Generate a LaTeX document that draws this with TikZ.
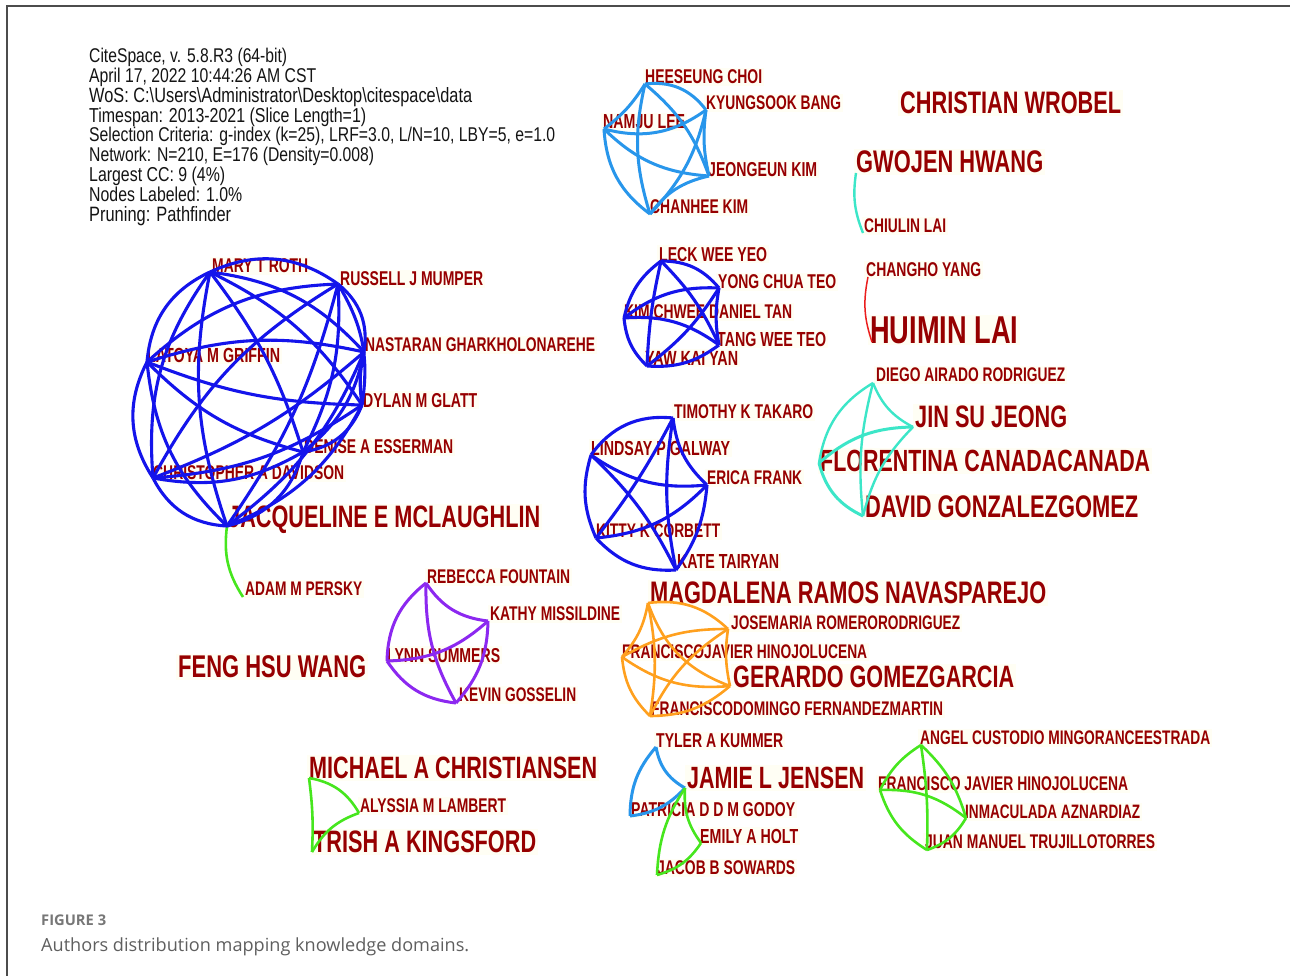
\documentclass[tikz,border=0pt]{standalone}
\usepackage{fontspec}
\usepackage{graphicx}
\newfontfamily\lblfont{Liberation Sans}[FakeStretch=0.7]
\newfontfamily\hdrfont{Liberation Sans}[FakeStretch=0.79]
\newfontfamily\capfont{Open Sans}
\definecolor{lblred}{RGB}{150,0,0}
\definecolor{lblbg}{RGB}{255,254,244}
\definecolor{cblue}{RGB}{40,150,235}
\definecolor{dblue}{RGB}{20,20,235}
\definecolor{cyanE}{RGB}{60,230,200}
\definecolor{redE}{RGB}{235,30,30}
\definecolor{greenE}{RGB}{70,230,30}
\definecolor{purpleE}{RGB}{140,40,240}
\definecolor{orangeE}{RGB}{255,160,30}
\definecolor{capgray}{RGB}{95,95,95}
\newcommand\lab[5]{\node[lbl] (#1) at ({#2-2},#3) {\resizebox{#4pt}{!}{#5}};}
\newcommand\hdr[4]{\node[hdrs] (#1) at (89,#2) {\resizebox{#3pt}{!}{#4}};}
\tikzset{
  lbl/.style={inner sep=2pt, fill=lblbg, text=lblred, text depth=0pt, anchor=west, font=\lblfont\bfseries},
  hdrs/.style={inner sep=0pt, text depth=0pt, anchor=west, text=black!92, font=\hdrfont},
  capt/.style={inner sep=0pt, text depth=0pt, anchor=west, text=capgray, font=\capfont},
  eb/.style={line width=3.1pt, dblue},
  ec/.style={line width=3pt, cblue},
  ecy/.style={line width=2.4pt, cyanE},
  er/.style={line width=1.5pt, redE},
  eg/.style={line width=2.6pt, greenE},
  ep/.style={line width=3pt, purpleE},
  eo/.style={line width=2.6pt, orangeE}
}
\begin{document}
\begin{tikzpicture}[x=1pt,y=-1pt]
\useasboundingbox (0,0) rectangle (1290,976);
\fill[white] (0,0) rectangle (1290,976);
\draw[line width=1.3pt, black!70] (7,976) -- (7,6) -- (1290,6);

% header
\hdr{h1}{55.5}{198}{CiteSpace, v. 5.8.R3 (64-bit)}
\hdr{h2}{75.3}{227}{April 17, 2022 10:44:26 AM CST}
\hdr{h3}{95.1}{383}{WoS: C:\textbackslash Users\textbackslash Administrator\textbackslash Desktop\textbackslash citespace\textbackslash data}
\hdr{h4}{114.9}{277}{Timespan: 2013-2021 (Slice Length=1)}
\hdr{h5}{134.7}{466}{Selection Criteria: g-index (k=25), LRF=3.0, L/N=10, LBY=5, e=1.0}
\hdr{h6}{154.5}{285}{Network: N=210, E=176 (Density=0.008)}
\hdr{h7}{174.3}{136}{Largest CC: 9 (4\%)}
\hdr{h8}{194.1}{153}{Nodes Labeled: 1.0\%}
\hdr{h9}{213.9}{142}{Pruning: Pathfinder}

% labels
\lab{lHe}{645}{77}{117}{HEESEUNG CHOI}
\lab{lKy}{706}{103}{135}{KYUNGSOOK BANG}
\lab{lNa}{603}{122}{82}{NAMJU LEE}
\lab{lJe}{708}{169}{109}{JEONGEUN KIM}
\lab{lCh}{650}{207}{98}{CHANHEE KIM}
\lab{lCw}{900}{103}{221}{CHRISTIAN WROBEL}
\lab{lGw}{856}{162}{187}{GWOJEN HWANG}
\lab{lCl}{864}{226}{82}{CHIULIN LAI}
\lab{lCy}{866}{270}{115}{CHANGHO YANG}
\lab{lHu}{870}{330}{148}{HUIMIN LAI}
\lab{lLe}{659}{254}{108}{LECK WEE YEO}
\lab{lYo}{718}{282}{118}{YONG CHUA TEO}
\lab{lKi}{624}{312}{168}{KIM CHWEE DANIEL TAN}
\lab{lTa}{717}{339}{109}{TANG WEE TEO}
\lab{lYa}{645}{358}{93}{YAW KAI YAN}
\lab{lDi}{876}{375}{189}{DIEGO AIRADO RODRIGUEZ}
\lab{lJi}{915}{417}{152}{JIN SU JEONG}
\lab{lFl}{820}{461}{330}{FLORENTINA CANADACANADA}
\lab{lDa}{865}{507}{273}{DAVID GONZALEZGOMEZ}
\lab{lTi}{674}{412}{139}{TIMOTHY K TAKARO}
\lab{lLi}{591}{448}{139}{LINDSAY P GALWAY}
\lab{lEr}{707}{478}{95}{ERICA FRANK}
\lab{lKt}{596}{531}{124}{KITTY K CORBETT}
\lab{lKa}{677}{562}{102}{KATE TAIRYAN}
\lab{lMr}{212}{266}{96}{MARY T ROTH}
\lab{lRu}{340}{279}{143}{RUSSELL J MUMPER}
\lab{lNs}{365}{345}{230}{NASTARAN GHARKHOLONAREHE}
\lab{lLa}{147}{355}{133}{LATOYA M GRIFFIN}
\lab{lDy}{363}{400}{114}{DYLAN M GLATT}
\lab{lDe}{304}{447}{149}{DENISE A ESSERMAN}
\lab{lCd}{153}{473}{191}{CHRISTOPHER A DAVIDSON}
\lab{lJq}{228}{517}{312}{JACQUELINE E MCLAUGHLIN}
\lab{lAd}{245}{589}{117}{ADAM M PERSKY}
\lab{lRe}{427}{577}{143}{REBECCA FOUNTAIN}
\lab{lKm}{490}{614}{130}{KATHY MISSILDINE}
\lab{lLy}{387}{655}{113}{LYNN SUMMERS}
\lab{lKe}{459}{695}{117}{KEVIN GOSSELIN}
\lab{lFe}{178}{667}{188}{FENG HSU WANG}
\lab{lMa}{650}{593}{396}{MAGDALENA RAMOS NAVASPAREJO}
\lab{lJo}{731}{623}{229}{JOSEMARIA ROMERORODRIGUEZ}
\lab{lFj}{622}{652}{245}{FRANCISCOJAVIER HINOJOLUCENA}
\lab{lGe}{733}{677}{281}{GERARDO GOMEZGARCIA}
\lab{lFd}{651}{709}{292}{FRANCISCODOMINGO FERNANDEZMARTIN}
\lab{lMi}{309}{768}{288}{MICHAEL A CHRISTIANSEN}
\lab{lAl}{360}{806}{146}{ALYSSIA M LAMBERT}
\lab{lTr}{313}{842}{223}{TRISH A KINGSFORD}
\lab{lTy}{656}{741}{127}{TYLER A KUMMER}
\lab{lJa}{687}{778}{177}{JAMIE L JENSEN}
\lab{lPa}{631}{809}{164}{PATRICIA D D M GODOY}
\lab{lEm}{700}{836}{98}{EMILY A HOLT}
\lab{lJb}{657}{868}{138}{JACOB B SOWARDS}
\lab{lAn}{920}{738}{290}{ANGEL CUSTODIO MINGORANCEESTRADA}
\lab{lFr}{878}{784}{250}{FRANCISCO JAVIER HINOJOLUCENA}
\lab{lIn}{965}{812}{175}{INMACULADA AZNARDIAZ}
\lab{lJu}{925}{842}{230}{JUAN MANUEL TRUJILLOTORRES}

% caption
\node[capt, font=\capfont\bfseries, text=capgray!85] (cap1) at (41,920.5) {\resizebox{65pt}{!}{FIGURE 3}};
\node[capt] (cap2) at (41,945) {\resizebox{428pt}{!}{Authors distribution mapping knowledge domains.}};

% vertices
\coordinate (vHe) at (645,84);  \coordinate (vKy) at (706,110);
\coordinate (vNa) at (604,129); \coordinate (vJe) at (709,176);
\coordinate (vCh) at (650,214);
\coordinate (vGw) at (856,173); \coordinate (vCl) at (863,233);
\coordinate (vCy) at (868,277); \coordinate (vHu) at (872,342);
\coordinate (vLe) at (661,261); \coordinate (vYo) at (719,288);
\coordinate (vKi) at (624,318); \coordinate (vTa) at (719,345);
\coordinate (vYa) at (647,366);
\coordinate (vTi) at (673,418); \coordinate (vLi) at (591,455);
\coordinate (vEr) at (707,485); \coordinate (vKt) at (596,538);
\coordinate (vKa) at (676,570);
\coordinate (vDi) at (873,383); \coordinate (vJi) at (913,427);
\coordinate (vFl) at (819,463); \coordinate (vDa) at (863,516);
\coordinate (vRe) at (426,583); \coordinate (vKm) at (488,621);
\coordinate (vLy) at (387,661); \coordinate (vKe) at (456,703);
\coordinate (vMa) at (648,603); \coordinate (vJo) at (728,629);
\coordinate (vFj) at (622,657); \coordinate (vGe) at (730,686);
\coordinate (vFd) at (650,716);
\coordinate (vMi) at (309,778); \coordinate (vAl) at (359,813);
\coordinate (vTr) at (312,852);
\coordinate (vTy) at (656,747); \coordinate (vJa) at (685,788);
\coordinate (vPa) at (630,816); \coordinate (vEm) at (701,843);
\coordinate (vJb) at (657,875);
\coordinate (vAn) at (921,745); \coordinate (vFr) at (880,790);
\coordinate (vIn) at (966,818); \coordinate (vJu) at (927,850);
\coordinate (vMr) at (210,272); \coordinate (vRu) at (338,284);
\coordinate (vNs) at (364,352); \coordinate (vDy) at (362,405);
\coordinate (vDe) at (303,452); \coordinate (vJq) at (227,526);
\coordinate (vCd) at (153,478); \coordinate (vLa) at (147,362);
\coordinate (vAd) at (243,597);

% Korean cluster
\draw[ec] (vHe) to[bend left=30] (vKy);
\draw[ec] (vHe) to[bend left=10] (vNa);
\draw[ec] (vHe) to[bend right=15] (vCh);
\draw[ec] (vHe) to[bend left=15] (vJe);
\draw[ec] (vKy) to[bend left=25] (vNa);
\draw[ec] (vKy) to[bend right=10] (vJe);
\draw[ec] (vKy) to[bend left=15] (vCh);
\draw[ec] (vNa) to[bend right=20] (vJe);
\draw[ec] (vNa) to[bend right=25] (vCh);
\draw[ec] (vJe) to[bend right=20] (vCh);
% pairs
\draw[ecy] (vGw) to[bend right=15] (vCl);
\draw[er] (vCy) to[bend right=15] (vHu);
% Leck cluster
\draw[eb] (vLe) to[bend left=25] (vYo);
\draw[eb] (vLe) to[bend right=20] (vKi);
\draw[eb] (vLe) to[bend left=10] (vTa);
\draw[eb] (vLe) to[bend right=5] (vYa);
\draw[eb] (vYo) to[bend right=20] (vKi);
\draw[eb] (vYo) to[bend right=10] (vTa);
\draw[eb] (vYo) to[bend left=10] (vYa);
\draw[eb] (vKi) to[bend left=20] (vTa);
\draw[eb] (vKi) to[bend right=20] (vYa);
\draw[eb] (vTa) to[bend left=20] (vYa);
% Timothy cluster
\draw[eb] (vTi) to[bend right=30] (vLi);
\draw[eb] (vTi) to[bend right=20] (vEr);
\draw[eb] (vTi) to[bend left=5] (vKt);
\draw[eb] (vTi) to[bend right=10] (vKa);
\draw[eb] (vLi) to[bend right=20] (vEr);
\draw[eb] (vLi) to[bend right=20] (vKt);
\draw[eb] (vLi) to[bend left=10] (vKa);
\draw[eb] (vEr) to[bend left=20] (vKt);
\draw[eb] (vEr) to[bend left=15] (vKa);
\draw[eb] (vKt) to[bend right=25] (vKa);
% cyan cluster
\draw[ecy] (vDi) to[bend right=20] (vJi);
\draw[ecy] (vDi) to[bend right=25] (vFl);
\draw[ecy] (vDi) to[bend right=10] (vDa);
\draw[ecy, line width=3pt] (vJi) to[bend right=20] (vFl);
\draw[ecy] (vJi) to[bend right=15] (vDa);
\draw[ecy, line width=3pt] (vFl) to[bend right=25] (vDa);
% purple cluster
\draw[ep] (vRe) to[bend right=25] (vKm);
\draw[ep] (vRe) to[bend right=25] (vLy);
\draw[ep] (vRe) to[bend right=15] (vKe);
\draw[ep] (vKm) to[bend left=20] (vLy);
\draw[ep] (vKm) to[bend left=20] (vKe);
\draw[ep] (vLy) to[bend right=25] (vKe);
% orange cluster
\draw[eo] (vMa) to[bend left=25] (vJo);
\draw[eo] (vMa) to[bend left=15] (vFj);
\draw[eo] (vMa) to[bend right=25] (vGe);
\draw[eo] (vMa) to[bend left=10] (vFd);
\draw[eo] (vJo) to[bend right=15] (vFj);
\draw[eo] (vJo) to[bend right=10] (vGe);
\draw[eo] (vJo) to[bend right=15] (vFd);
\draw[eo] (vFj) to[bend right=20] (vGe);
\draw[eo] (vFj) to[bend right=20] (vFd);
\draw[eo] (vGe) to[bend left=20] (vFd);
% bottom-left green
\draw[eg] (vMi) to[bend left=25] (vAl);
\draw[eg] (vAl) to[bend right=20] (vTr);
\draw[eg] (vMi) to[bend left=5] (vTr);
% Tyler group
\draw[ec] (vTy) to[bend right=25] (vJa);
\draw[ec] (vTy) to[bend right=20] (vPa);
\draw[ec] (vPa) to[bend right=20] (vJa);
\draw[eg] (vJa) to[bend right=20] (vEm);
\draw[eg] (vJa) to[bend right=15] (vJb);
\draw[eg] (vEm) to[bend left=20] (vJb);
% right green
\draw[eg] (vAn) to[bend right=15] (vFr);
\draw[eg] (vAn) to[bend left=15] (vIn);
\draw[eg] (vAn) to[bend left=5] (vJu);
\draw[eg] (vFr) to[bend left=20] (vIn);
\draw[eg] (vFr) to[bend right=20] (vJu);
\draw[eg] (vIn) to[bend left=20] (vJu);
% Jacqueline - Adam
\draw[eg] (vJq) to[bend right=20] (vAd);
% big blue cluster (clockwise: Mr Ru Ns Dy De Jq Cd La)
\draw[eb] (vMr) to[bend left=30] (vRu);
\draw[eb] (vRu) to[bend left=30] (vNs);
\draw[eb] (vNs) to[bend right=10] (vDy);
\draw[eb] (vDy) to[bend left=30] (vDe);
\draw[eb] (vDe) to[bend left=30] (vJq);
\draw[eb] (vJq) to[bend left=30] (vCd);
\draw[eb] (vCd) to[bend left=30] (vLa);
\draw[eb] (vLa) to[bend left=30] (vMr);
\draw[eb] (vMr) to[bend left=20] (vNs);
\draw[eb] (vRu) to[bend left=20] (vDy);
\draw[eb] (vNs) to[bend left=20] (vDe);
\draw[eb] (vDy) to[bend left=20] (vJq);
\draw[eb] (vDe) to[bend left=20] (vCd);
\draw[eb] (vJq) to[bend left=20] (vLa);
\draw[eb] (vCd) to[bend left=20] (vMr);
\draw[eb] (vLa) to[bend left=20] (vRu);
\draw[eb] (vMr) to[bend left=15] (vDy);
\draw[eb] (vRu) to[bend left=15] (vDe);
\draw[eb] (vNs) to[bend left=15] (vJq);
\draw[eb] (vDy) to[bend left=15] (vCd);
\draw[eb] (vDe) to[bend left=15] (vLa);
\draw[eb] (vJq) to[bend left=15] (vMr);
\draw[eb] (vCd) to[bend left=15] (vRu);
\draw[eb] (vLa) to[bend left=15] (vNs);
\draw[eb] (vMr) to[bend left=10] (vDe);
\draw[eb] (vRu) to[bend left=10] (vJq);
\draw[eb] (vNs) to[bend left=10] (vCd);
\draw[eb] (vDy) to[bend left=10] (vLa);
\end{tikzpicture}
\end{document}
